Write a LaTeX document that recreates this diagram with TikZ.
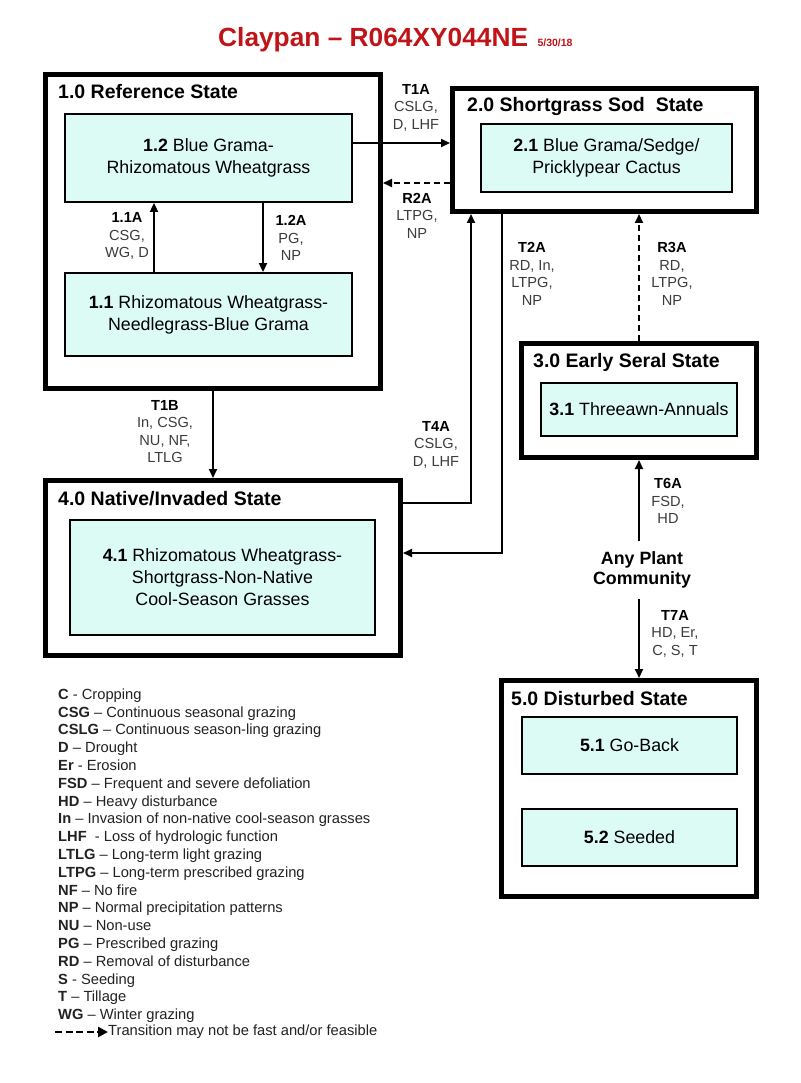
\documentclass[tikz,border=0pt]{standalone}
\usepackage{fontspec}
\setmainfont{Liberation Sans}
\usetikzlibrary{arrows.meta}
\definecolor{boxfill}{HTML}{DDFBF5}
\definecolor{titlered}{RGB}{192,20,24}
\definecolor{lblgray}{HTML}{3C3C3C}
\definecolor{legtext}{HTML}{222222}
\newcommand{\fsz}[2]{\fontsize{#1}{#2}\selectfont}
\begin{document}
\begin{tikzpicture}[x=1pt,y=-1pt,
  statebox/.style={draw, line width=5pt, fill=white, inner sep=0pt},
  commbox/.style={draw, line width=1.8pt, fill=boxfill, inner sep=0pt, align=center, font=\fsz{17.8}{22}},
  sttitle/.style={anchor=base west, inner sep=0pt, font=\bfseries\fsz{19.5}{22}},
  lbl/.style={align=center, inner sep=0pt, font=\fsz{14.6}{17.5}, text=lblgray},
  arr/.style={line width=1.8pt, -{Triangle[length=9pt,width=8pt]}},
  dsh/.style={dash pattern=on 6pt off 4pt}]
\fill[white] (0,0) rectangle (800,1083);
\useasboundingbox (0,0) rectangle (800,1083);

% title
\node[anchor=base west, inner sep=0pt, font=\bfseries\fsz{26.3}{30}, text=titlered] (title) at (218,47) {Claypan -- R064XY044NE};
\node[anchor=base west, inner sep=0pt, font=\bfseries\fsz{10.5}{12}, text=titlered] (date) at ([xshift=9pt]title.base east) {5/30/18};

% state boxes
\node[statebox, minimum width=335pt, minimum height=314pt] (s1) at (213,231.5) {};
\node[statebox, minimum width=304pt, minimum height=123pt] (s2) at (604.5,150) {};
\node[statebox, minimum width=235pt, minimum height=114pt] (s3) at (639,400.5) {};
\node[statebox, minimum width=355pt, minimum height=175pt] (s4) at (223,568) {};
\node[statebox, minimum width=255pt, minimum height=216pt] (s5) at (629,788.5) {};

% state titles
\node[sttitle] (t1) at (58,99) {1.0 Reference State};
\node[sttitle] (t2) at (467,112) {2.0 Shortgrass Sod~ State};
\node[sttitle] (t3) at (533,367) {3.0 Early Seral State};
\node[sttitle] (t4) at (58,505) {4.0 Native/Invaded State};
\node[sttitle] (t5) at (511,705) {5.0 Disturbed State};

% community boxes
\node[commbox, minimum width=287pt, minimum height=88pt] (c12) at (208.5,158) {\textbf{1.2} Blue Grama-\\Rhizomatous Wheatgrass};
\node[commbox, minimum width=287pt, minimum height=83pt] (c11) at (208.5,314.5) {\textbf{1.1} Rhizomatous Wheatgrass-\\Needlegrass-Blue Grama};
\node[commbox, minimum width=251pt, minimum height=68pt] (c21) at (606.5,158) {\textbf{2.1} Blue Grama/Sedge/\\Pricklypear Cactus};
\node[commbox, minimum width=196pt, minimum height=53pt] (c31) at (639,409.5) {\textbf{3.1} Threeawn-Annuals};
\node[commbox, minimum width=305pt, minimum height=115pt] (c41) at (222.5,577.5) {\textbf{4.1} Rhizomatous Wheatgrass-\\Shortgrass-Non-Native\\Cool-Season Grasses};
\node[commbox, minimum width=215pt, minimum height=57pt] (c51) at (629.5,745.5) {\textbf{5.1} Go-Back};
\node[commbox, minimum width=215pt, minimum height=57pt] (c52) at (629.5,837.5) {\textbf{5.2} Seeded};

\node[font=\bfseries\fsz{17.8}{20}, align=center, inner sep=0pt, minimum height=58pt] (apc) at (642,570) {Any Plant\\Community};

% routing coordinates
\coordinate (yT1A) at (0,143);
\coordinate (yR2A) at (0,183);
\coordinate (x11) at (154,0);
\coordinate (x12) at (263,0);
\coordinate (k4) at (471,503);
\coordinate (k2) at (502,553);

% connectors
\draw[arr] (c12.east |- yT1A) -- (s2.west |- yT1A);
\draw[arr,dsh] (s2.west |- yR2A) -- (s1.east |- yR2A);
\draw[arr] (c11.north -| x11) -- (c12.south -| x11);
\draw[arr] (c12.south -| x12) -- (c11.north -| x12);
\draw[arr] (s1.south) -- (s4.north -| s1.south);
\draw[arr] (s4.east |- k4) -- (k4) -- (s2.south -| k4);
\draw[arr] (s2.south -| k2) -- (k2) -- (s4.east |- k2);
\draw[arr,dsh] (s3.north) -- (s2.south -| s3.north);
\draw[arr] (apc.north -| s3.south) -- (s3.south);
\draw[arr] (apc.south -| s3.south) -- (s5.north -| s3.south);

% labels
\node[lbl] (lT1A) at (416,107.5) {\textbf{\color{black}T1A}\\CSLG,\\D, LHF};
\node[lbl] (lR2A) at (417,215.5) {\textbf{\color{black}R2A}\\LTPG,\\NP};
\node[lbl] (l11A) at (127,236) {\textbf{\color{black}1.1A}\\CSG,\\WG, D};
\node[lbl] (l12A) at (291,238) {\textbf{\color{black}1.2A}\\PG,\\NP};
\node[lbl] (lT2A) at (532,274) {\textbf{\color{black}T2A}\\RD, In,\\LTPG,\\NP};
\node[lbl] (lR3A) at (672,274) {\textbf{\color{black}R3A}\\RD,\\LTPG,\\NP};
\node[lbl] (lT4A) at (436,444.5) {\textbf{\color{black}T4A}\\CSLG,\\D, LHF};
\node[lbl] (lT1B) at (165,431.5) {\textbf{\color{black}T1B}\\In, CSG,\\NU, NF,\\LTLG};
\node[lbl] (lT6A) at (668,501) {\textbf{\color{black}T6A}\\FSD,\\HD};
\node[lbl] (lT7A) at (675,633.5) {\textbf{\color{black}T7A}\\HD, Er,\\C, S, T};

% legend
\node[anchor=north west, inner sep=0pt, align=left, font=\fsz{14.7}{17.8}, text=legtext] (legend) at (58,688.5) {%
\textbf{C} - Cropping\\
\textbf{CSG} -- Continuous seasonal grazing\\
\textbf{CSLG} -- Continuous season-ling grazing\\
\textbf{D} -- Drought\\
\textbf{Er} - Erosion\\
\textbf{FSD} -- Frequent and severe defoliation\\
\textbf{HD} -- Heavy disturbance\\
\textbf{In} -- Invasion of non-native cool-season grasses\\
\textbf{LHF} ~- Loss of hydrologic function\\
\textbf{LTLG} -- Long-term light grazing\\
\textbf{LTPG} -- Long-term prescribed grazing\\
\textbf{NF} -- No fire\\
\textbf{NP} -- Normal precipitation patterns\\
\textbf{NU} -- Non-use\\
\textbf{PG} -- Prescribed grazing\\
\textbf{RD} -- Removal of disturbance\\
\textbf{S} - Seeding\\
\textbf{T} -- Tillage\\
\textbf{WG} -- Winter grazing};
\coordinate (lgA) at (55,1032);
\node[anchor=west, inner sep=0pt, font=\fsz{14.7}{17.8}, text=legtext] (lgT) at (108,1032) {Transition may not be fast and/or feasible};
\draw[line width=2.6pt, dash pattern=on 7pt off 3.5pt, -{Triangle[length=10pt,width=10pt]}] (lgA) -- (lgT.west);
\end{tikzpicture}
\end{document}
